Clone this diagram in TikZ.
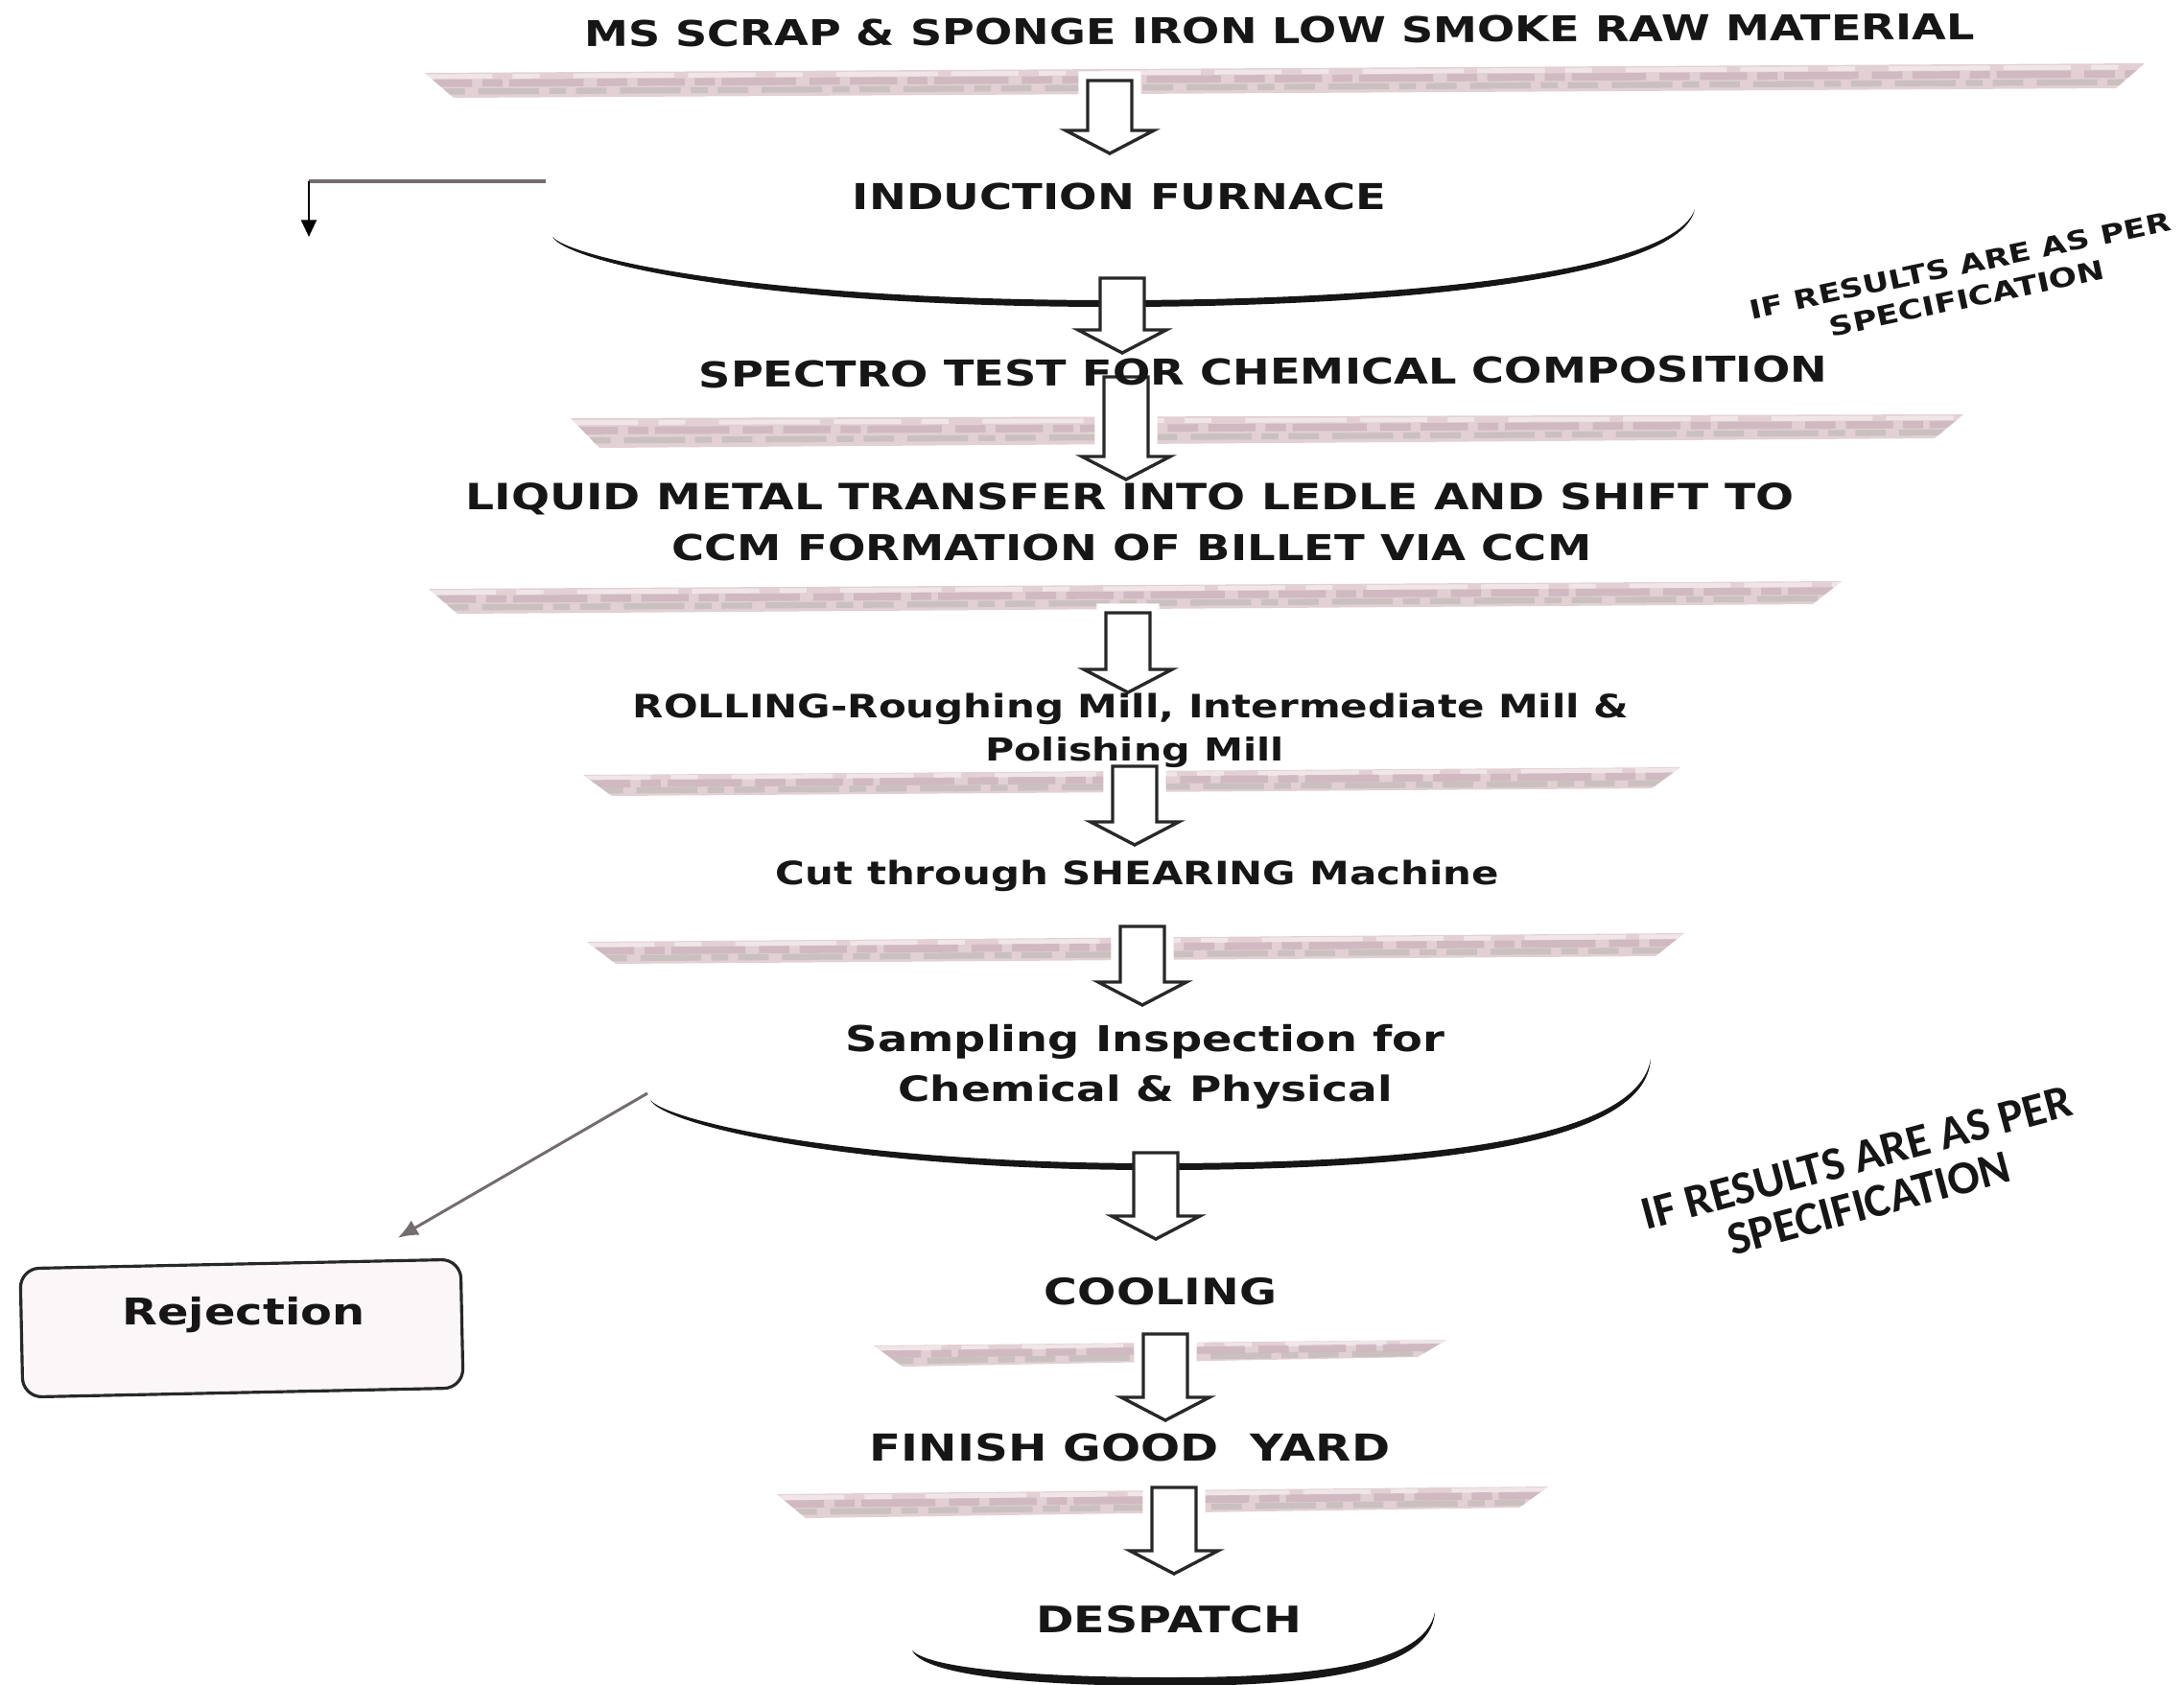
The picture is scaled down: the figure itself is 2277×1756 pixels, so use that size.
\documentclass[tikz,border=0pt]{standalone}
\usepackage{fontspec}
\usepackage{graphicx}
\setmainfont{DejaVu Sans}
\newfontfamily\wfont{DejaVu Sans}[FakeStretch=1.25]
\newfontfamily\cfont{Carlito}
\usetikzlibrary{calc,arrows.meta}
\definecolor{ink}{RGB}{22,22,22}
\definecolor{barbase}{RGB}{226,208,212}
\definecolor{barstreakA}{RGB}{204,180,189}
\definecolor{barstreakB}{RGB}{196,188,188}
\definecolor{barlight}{RGB}{240,230,232}
\definecolor{outline}{RGB}{40,40,40}
\definecolor{grayline}{RGB}{115,108,112}
\definecolor{rejfill}{RGB}{251,246,247}
\newcommand\fw[2]{\resizebox{#1}{!}{#2}}
\newcommand\banner[6]{%
  \begin{scope}
    \fill[barbase] (#1,#3) -- (#2,#5) -- ({#2-30},#6) -- ({#1+30},#4) -- cycle;
    \clip (#1,#3) -- (#2,#5) -- ({#2-30},#6) -- ({#1+30},#4) -- cycle;
    \draw[barlight, line width=1.4pt, dash pattern=on 20pt off 6pt on 8pt off 10pt on 30pt off 4pt]
      (#1,{#3+(#4-#3)*0.15}) -- (#2,{#5+(#6-#5)*0.15});
    \draw[barstreakA, line width=2.2pt, opacity=0.8, dash pattern=on 14pt off 3pt on 6pt off 2pt on 22pt off 4pt on 9pt off 3pt]
      (#1,{#3+(#4-#3)*0.42}) -- (#2,{#5+(#6-#5)*0.42});
    \draw[barstreakB, line width=1.8pt, opacity=0.8, dash pattern=on 9pt off 4pt on 18pt off 3pt on 5pt off 3pt]
      ({#1+10},{#3+(#4-#3)*0.75}) -- (#2,{#5+(#6-#5)*0.75});
  \end{scope}}
\newcommand\harrow[3]{\path[#1] ($(#2)+(-23,0)$) -- ($(#3)+(-23,-24)$) -- ($(#3)+(-46,-24)$) -- (#3) -- ($(#3)+(46,-24)$) -- ($(#3)+(23,-24)$) -- ($(#2)+(23,0)$) -- cycle;}
\tikzset{
  steptext/.style={font=\wfont\bfseries\fontsize{10}{12}\selectfont, text=ink, inner sep=0pt, anchor=base},
  arrowhalo/.style={draw=white, line width=5.5pt, fill=white, line join=miter},
  arrowbody/.style={draw=outline, line width=0.95pt, fill=white, line join=miter},
  swoosh/.style={fill=ink},
  rejbox/.style={draw=outline, line width=0.9pt, rounded corners=0.2cm, fill=rejfill, minimum width=4.59cm, minimum height=1.34cm, rotate=1.2, inner sep=0pt},
  labelA/.style={font=\wfont\bfseries\fontsize{7.6}{10}\selectfont, text=ink, align=center, inner sep=0pt, rotate=12},
  labelB/.style={font=\cfont\bfseries\fontsize{12}{14}\selectfont, text=ink, align=center, inner sep=0pt, rotate=15},
  rejline/.style={draw=grayline, line width=0.85pt, -{Latex[length=6pt,width=5pt]}, shorten >=0.46cm},
}
\begin{document}
\begin{tikzpicture}[x=0.01cm, y=-0.01cm]
\useasboundingbox (0,0) rectangle (2277,1756);
\fill[white] (0,0) rectangle (2277,1756);

% banners
\banner{443}{2236}{76}{102}{66}{92}
\banner{595}{2047}{436}{467}{432}{457}
\banner{447}{1920}{614}{640}{606}{630}
\banner{608}{1752}{808}{830}{800}{822}
\banner{612}{1756}{982}{1005}{973}{997}
\banner{911}{1508}{1403}{1425}{1397}{1415}
\banner{810}{1614}{1558}{1583}{1550}{1572}

% arrow coordinates
\coordinate (a1t) at (1157,84);   \coordinate (a1b) at (1157,160);
\coordinate (a2t) at (1170,290);  \coordinate (a2b) at (1170,368);
\coordinate (a3t) at (1174,393);  \coordinate (a3b) at (1174,500);
\coordinate (a4t) at (1176,639);  \coordinate (a4b) at (1176,722);
\coordinate (a5t) at (1183,799);  \coordinate (a5b) at (1183,881);
\coordinate (a6t) at (1191,966);  \coordinate (a6b) at (1191,1048);
\coordinate (a7t) at (1205,1202); \coordinate (a7b) at (1205,1292);
\coordinate (a8t) at (1215,1391); \coordinate (a8b) at (1215,1481);
\coordinate (a9t) at (1224,1551); \coordinate (a9b) at (1224,1641);

\foreach \i in {1,...,9}{\harrow{arrowhalo}{a\i t}{a\i b}}

% swooshes
\path[swoosh] (576,247) .. controls (590,272) and (780,320) .. (1162,320) .. controls (1450,320) and (1752,292) .. (1767,218)
  .. controls (1745,286) and (1450,313) .. (1162,313) .. controls (780,313) and (595,268) .. (576,247) -- cycle;
\path[swoosh] (678,1147) .. controls (690,1172) and (880,1220) .. (1205,1220) .. controls (1500,1220) and (1716,1192) .. (1721,1104)
  .. controls (1708,1186) and (1500,1213) .. (1205,1213) .. controls (880,1213) and (695,1168) .. (678,1147) -- cycle;
\path[swoosh] (951,1721) .. controls (965,1750) and (1100,1758) .. (1220,1758) .. controls (1360,1758) and (1492,1745) .. (1496,1681)
  .. controls (1485,1738) and (1360,1749) .. (1220,1749) .. controls (1100,1749) and (972,1742) .. (951,1721) -- cycle;

\foreach \i in {1,...,9}{\harrow{arrowbody}{a\i t}{a\i b}}

% side connector from furnace
\coordinate (furnL) at (569,189);
\coordinate (furnC) at (322,189);
\coordinate (furnD) at (322,247);
\draw[grayline, line width=1.3pt] (furnL) -- (furnC);
\draw[black, line width=0.7pt, -{Triangle[length=5pt,width=4.5pt]}] (furnC) -- (furnD);

% rejection
\node[rejbox] (rej) at (252,1385) {};
\node[steptext] (rejt) at (254,1381) {\fw{2.53cm}{Rejection}};
\coordinate (sampL) at (675,1140);
\draw[rejline] (sampL) -- (rej);

% step texts
\node[steptext, rotate=0.3] (raw) at (1334,45) {\fw{14.49cm}{MS SCRAP \& SPONGE IRON LOW SMOKE RAW MATERIAL}};
\node[steptext] (furn) at (1167,218) {\fw{5.56cm}{INDUCTION FURNACE}};
\node[steptext, rotate=0.3] (spec) at (1317,401) {\fw{11.76cm}{SPECTRO TEST FOR CHEMICAL COMPOSITION}};
\node[steptext] (liqA) at (1178,531) {\fw{13.84cm}{LIQUID METAL TRANSFER INTO LEDLE AND SHIFT TO}};
\node[steptext] (liqB) at (1180,584) {\fw{9.58cm}{CCM FORMATION OF BILLET VIA CCM}};
\node[steptext] (rollA) at (1179,748) {\fw{10.38cm}{ROLLING-Roughing Mill, Intermediate Mill \&}};
\node[steptext] (rollB) at (1183,793) {\fw{3.11cm}{Polishing Mill}};
\node[steptext] (cut) at (1186,922) {\fw{7.54cm}{Cut through SHEARING Machine}};
\node[steptext] (sampA) at (1194,1096) {\fw{6.24cm}{Sampling Inspection for}};
\node[steptext] (sampB) at (1194,1148) {\fw{5.15cm}{Chemical \& Physical}};
\node[steptext] (cool) at (1210,1360) {\fw{2.42cm}{COOLING}};
\node[steptext] (fin) at (1178,1523) {\fw{5.42cm}{FINISH GOOD\ \ YARD}};
\node[steptext] (desp) at (1219,1702) {\fw{2.77cm}{DESPATCH}};

% condition labels
\node[labelA] (ifA) at (2047,294) {\fw{4.48cm}{IF RESULTS ARE AS PER}\\\fw{2.92cm}{SPECIFICATION}};
\node[labelB] (ifB) at (1942,1231) {\fw{4.62cm}{IF RESULTS ARE AS PER}\\\fw{3.02cm}{SPECIFICATION}};
\end{tikzpicture}
\end{document}
